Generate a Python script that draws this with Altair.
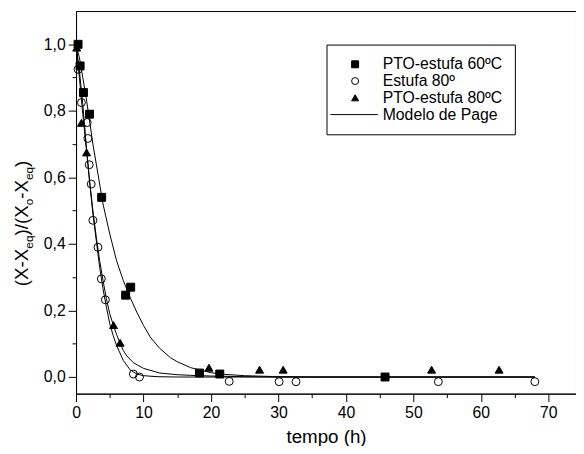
import altair as alt
import pandas as pd

FONT = "Liberation Sans"
SERIES = ["PTO-estufa 60ºC", "Estufa 80º", "PTO-estufa 80ºC", "Modelo de Page"]

# measured points
sq_t = [0.3, 0.6, 1.1, 2.0, 3.8, 7.35, 8.1, 18.3, 21.3, 45.8]
sq_y = [1.0, 0.935, 0.855, 0.79, 0.54, 0.246, 0.27, 0.012, 0.009, 0.0]

ci_t = [0.3, 0.8, 1.65, 1.75, 1.95, 2.25, 2.5, 3.25, 3.75, 4.35, 8.5, 9.4, 22.7, 30.1, 32.6, 53.7, 68.0]
ci_y = [0.925, 0.825, 0.765, 0.717, 0.638, 0.58, 0.471, 0.39, 0.295, 0.232, 0.009, 0.0, -0.013, -0.014, -0.014, -0.014, -0.014]

tr_t = [0.1, 0.8, 1.56, 5.56, 6.53, 19.7, 27.2, 30.7, 52.7, 62.7]
tr_y = [0.99, 0.764, 0.675, 0.156, 0.103, 0.028, 0.022, 0.022, 0.022, 0.022]

# Page model curves
m60_t = [0, 0.5, 1, 1.5, 2, 2.5, 3, 3.5, 4, 5, 6, 7, 8, 9, 10, 11, 12.4, 14, 15, 17, 20, 22, 25, 30, 35, 45, 68]
m60_y = [1, 0.96, 0.9, 0.84, 0.77, 0.7, 0.64, 0.58, 0.52, 0.43, 0.35, 0.29, 0.24, 0.195, 0.155, 0.12, 0.086, 0.058, 0.046, 0.028, 0.013, 0.008, 0.004, 0.001, 0, 0, 0]

me80_t = [0, 0.5, 1, 1.5, 2, 2.5, 3, 3.5, 4, 4.5, 5, 5.5, 6, 7, 8, 9, 10, 12, 15, 20, 30, 45, 68]
me80_y = [1, 0.92, 0.82, 0.7, 0.59, 0.49, 0.41, 0.33, 0.265, 0.21, 0.16, 0.125, 0.095, 0.05, 0.022, 0.009, 0.004, 0.001, 0, 0, 0, 0, 0]

mp80_t = [0, 0.5, 1, 1.5, 2, 2.5, 3, 3.5, 4, 4.5, 5, 5.5, 6, 6.5, 7, 7.5, 8.5, 10, 12.4, 15, 17, 20, 25, 30, 45, 68]
mp80_y = [1, 0.9, 0.79, 0.69, 0.59, 0.5, 0.42, 0.35, 0.29, 0.235, 0.19, 0.158, 0.128, 0.103, 0.08, 0.064, 0.043, 0.026, 0.012, 0.007, 0.005, 0.003, 0.001, 0, 0, 0]

x_ticks = [0, 5, 10, 15, 20, 25, 30, 35, 40, 45, 50, 55, 60, 65, 70]
y_ticks = [0.0, 0.1, 0.2, 0.3, 0.4, 0.5, 0.6, 0.7, 0.8, 0.9, 1.0]

X_DOMAIN = [0, 74.1]
Y_DOMAIN = [-0.05, 1.1]
W, H = 507, 388

pts = pd.concat([
    pd.DataFrame({"t": sq_t, "v": sq_y, "s": SERIES[0]}),
    pd.DataFrame({"t": ci_t, "v": ci_y, "s": SERIES[1]}),
    pd.DataFrame({"t": tr_t, "v": tr_y, "s": SERIES[2]}),
], ignore_index=True)

curves = pd.concat([
    pd.DataFrame({"t": m60_t, "v": m60_y, "c": "a"}),
    pd.DataFrame({"t": me80_t, "v": me80_y, "c": "b"}),
    pd.DataFrame({"t": mp80_t, "v": mp80_y, "c": "c"}),
], ignore_index=True)

xscale = alt.Scale(domain=X_DOMAIN, nice=False, zero=False)
yscale = alt.Scale(domain=Y_DOMAIN, nice=False, zero=False)

xaxis = alt.Axis(
    values=x_ticks, title="tempo (h)", grid=False,
    labelExpr="datum.value % 10 === 0 ? datum.label : ''",
    tickSize={"condition": {"test": "datum.value % 10 === 0", "value": 8}, "value": 4},
    labelFontSize=16, labelFont=FONT, labelColor="black", labelPadding=3,
    titleFontSize=19, titleFont=FONT, titleColor="black", titleFontWeight="normal", titlePadding=8,
    domainColor="black", tickColor="black", labelFlush=False, labelOverlap=False,
)
yaxis = alt.Axis(
    values=y_ticks, title=None, grid=False,
    labelExpr="round(datum.value*10) % 2 === 0 ? replace(format(datum.value, '.1f'), '.', ',') : ''",
    tickSize={"condition": {"test": "round(datum.value*10) % 2 === 0", "value": 8}, "value": 4},
    labelFontSize=16, labelFont=FONT, labelColor="black", labelPadding=3,
    domainColor="black", tickColor="black", labelFlush=False, labelOverlap=False,
)

lines = alt.Chart(curves).mark_line(color="black", strokeWidth=1).encode(
    x=alt.X("t:Q", scale=xscale, axis=xaxis),
    y=alt.Y("v:Q", scale=yscale, axis=yaxis),
    detail="c:N",
    order="t:Q",
)

legend = alt.Legend(
    orient="none", legendX=254, legendY=34, title=None,
    strokeColor="black", fillColor="white", padding=12,
    symbolSize=50, symbolStrokeWidth=1,
    labelFontSize=16, labelFont=FONT, labelColor="black",
    rowPadding=1, symbolOffset=9, labelOffset=20, labelLimit=300,
)

points = alt.Chart(pts).mark_point(size=65, strokeWidth=1, opacity=1).encode(
    x=alt.X("t:Q", scale=xscale, axis=xaxis),
    y=alt.Y("v:Q", scale=yscale, axis=yaxis),
    shape=alt.Shape("s:N", scale=alt.Scale(domain=SERIES, range=["square", "circle", "triangle-up", "M-7.1,0L6.5,0"]), legend=legend),
    fill=alt.Fill("s:N", scale=alt.Scale(domain=SERIES, range=["black", "transparent", "black", "transparent"]), legend=legend),
    stroke=alt.Stroke("s:N", scale=alt.Scale(domain=SERIES, range=["black", "black", "black", "black"]), legend=legend),
)

# y-axis title with subscripts, built from pieces
CHAR_W = {"(": 0.333, ")": 0.333, "X": 0.667, "-": 0.333, "/": 0.278, "e": 0.556, "q": 0.556, "o": 0.556}
pieces = [("(X-X", False), ("eq", True), (")/(X", False), ("o", True), ("-X", False), ("eq", True), (")", False)]
MAIN_FS, SUB_FS = 19, 12
title_layers = []
ypos = 279
for txt, sub in pieces:
    fs = SUB_FS if sub else MAIN_FS
    xpos = -44 if sub else -49
    title_layers.append(
        alt.Chart(pd.DataFrame({"txt": [txt]})).mark_text(
            angle=270, align="left", baseline="alphabetic", font=FONT, fontSize=fs, color="black"
        ).encode(x=alt.value(xpos), y=alt.value(ypos), text="txt:N")
    )
    ypos -= sum(CHAR_W[ch] for ch in txt) * fs

chart = alt.layer(lines, points, *title_layers).properties(
    width=W, height=H,
    autosize=alt.AutoSizeParams(type="none"),
    padding={"left": 69, "top": 0, "right": 0, "bottom": 50},
).configure_view(stroke="black", strokeWidth=1).configure_axis(
    tickWidth=1, domainWidth=1, titleFontWeight="normal"
)

chart.save("out.html", embed_options={"renderer": "svg", "actions": False})
